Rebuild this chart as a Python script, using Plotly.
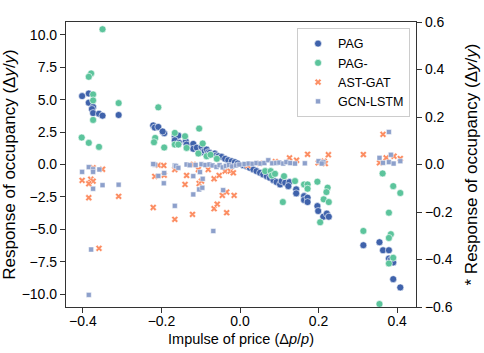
import plotly.graph_objects as go

# PAG (left axis)
pag_x = [-0.402, -0.385, -0.385, -0.374, -0.377, -0.374, -0.359, -0.350, -0.309,
         -0.221, -0.217, -0.208, -0.193, -0.197, -0.166, -0.157, -0.166, -0.155,
         -0.138, -0.136, -0.119, -0.119, -0.110, -0.098, -0.098, -0.090, -0.085,
         -0.081, -0.077, -0.072, -0.064, -0.060, -0.055, -0.047, -0.038, -0.030,
         -0.021, -0.013, -0.006,
         0.008, 0.017, 0.025, 0.034, 0.042, 0.051, 0.059, 0.068, 0.076, 0.085,
         0.093, 0.102, 0.106, 0.115, 0.126, 0.123, 0.143, 0.143, 0.163, 0.163,
         0.172, 0.172, 0.197, 0.199, 0.212, 0.221, 0.226,
         0.355, 0.314, 0.364, 0.379, 0.379, 0.384, 0.390, 0.390, 0.408]
pag_y = [5.28, 5.48, 4.77, 4.44, 4.28, 3.97, 3.92, 3.77, 3.82,
         3.02, 2.85, 2.90, 2.41, 2.55, 2.18, 2.23, 1.87, 1.67,
         1.79, 1.54, 1.59, 1.21, 1.30, 1.36, 0.95, 1.05, 1.15,
         0.95, 0.90, 0.77, 0.85, 0.70, 0.64, 0.59, 0.44, 0.33,
         0.25, 0.18, 0.08,
         -0.05, -0.13, -0.26, -0.38, -0.51, -0.64, -0.77, -0.90, -1.03, -1.21,
         -1.36, -1.54, -1.28, -1.41, -1.36, -1.67, -1.92, -2.23, -2.44, -2.74,
         -2.56, -2.90, -3.21, -3.59, -4.03, -3.79, -4.03,
         -6.00, -6.23, -6.62, -6.62, -7.26, -7.36, -7.56, -8.85, -9.49]

# PAG- (left axis)
pagm_x = [-0.350, -0.379, -0.385, -0.374, -0.374, -0.374, -0.309, -0.403, -0.385, -0.359,
          -0.208, -0.216, -0.219, -0.193, -0.166, -0.166, -0.157, -0.140, -0.136,
          -0.104, -0.095, -0.085, -0.106, -0.075, -0.059,
          0.064, 0.078, 0.081, 0.089, 0.112, 0.109, 0.140, 0.163, 0.172, 0.172,
          0.197, 0.223, 0.220, 0.213, 0.226, 0.204,
          0.363, 0.390, 0.408, 0.379, 0.314, 0.384, 0.379, 0.390, 0.379, 0.355]
pagm_y = [10.44, 7.03, 6.77, 5.41, 4.95, 3.44, 4.74, 2.08, 1.67, 1.36,
          4.41, 2.05, 1.72, 1.31, 2.44, 1.54, 1.54, 2.18, 1.28,
          2.77, 1.62, 0.64, 0.85, 0.75, 0.44,
          -0.51, -0.51, -0.85, -0.72, -0.90, -2.90, -1.28, -1.54, -1.54, -1.87,
          -1.33, -1.79, -2.13, -2.69, -2.90, -4.46,
          -0.69, -1.67, -2.20, -3.72, -5.13, -5.38, -5.67, -7.20, -7.64, -10.77]

# AST-GAT (right axis)
ast_x = [-0.374, -0.350, -0.402, -0.380, -0.374, -0.385, -0.385, -0.309, -0.359,
         -0.208, -0.194, -0.217, -0.193, -0.221, -0.166, -0.166, -0.136, -0.140,
         -0.119, -0.106, -0.104, -0.098, -0.081, -0.066, -0.053, -0.038, -0.025,
         -0.045, -0.034, -0.015, -0.066, -0.058, -0.034, -0.121, -0.017,
         0.020, 0.050, 0.090, 0.126, 0.144, 0.172, 0.199, 0.214, 0.225, 0.217,
         0.314, 0.355, 0.372, 0.392, 0.408, 0.364, 0.385]
ast_y = [-0.014, -0.020, -0.067, -0.062, -0.070, -0.081, -0.140, -0.134, -0.353,
         -0.003, -0.004, -0.050, -0.045, -0.181, -0.021, -0.231, -0.046, -0.084,
         0.000, -0.021, -0.080, -0.070, -0.021, -0.060, -0.046, -0.028, -0.028,
         -0.130, -0.116, -0.130, -0.186, -0.167, -0.203, -0.210, -0.035,
         -0.004, 0.005, 0.012, 0.028, 0.018, 0.043, 0.007, 0.014, 0.041, 0.004,
         0.042, 0.007, 0.028, 0.035, 0.025, 0.127, 0.270]

# GCN-LSTM (right axis)
gcn_x = [-0.385, -0.402, -0.374, -0.374, -0.358, -0.374, -0.350, -0.309, -0.379, -0.385,
         -0.217, -0.221, -0.208, -0.193, -0.194, -0.166, -0.166, -0.163, -0.157,
         -0.136, -0.128, -0.119, -0.113, -0.102, -0.095, -0.104, -0.096, -0.119,
         -0.068, -0.043, -0.098, -0.088, -0.078, -0.070, -0.060, -0.052, -0.044,
         -0.036, -0.028, -0.020, -0.010, -0.002,
         0.012, 0.022, 0.032, 0.042, 0.052, 0.062, 0.072, 0.082, 0.092, 0.100,
         0.110, 0.118, 0.128, 0.140, 0.165, 0.172, 0.200, 0.212, 0.208,
         0.314, 0.389, 0.379, 0.384, 0.355, 0.364, 0.379, 0.391, 0.408]
gcn_y = [-0.011, -0.031, -0.020, -0.031, -0.021, -0.102, -0.087, -0.085, -0.358, -0.549,
         -0.001, 0.002, -0.048, -0.036, -0.079, -0.004, -0.174, -0.007, -0.014,
         0.000, -0.003, -0.049, -0.002, -0.032, -0.060, -0.105, -0.098, -0.126,
         -0.280, -0.108, 0.001, -0.002, 0.000, -0.004, -0.010, -0.003, -0.012,
         -0.006, -0.002, -0.008, -0.004, 0.000,
         0.002, 0.004, 0.003, 0.006, 0.004, 0.006, 0.018, 0.005, 0.006, 0.008,
         0.004, 0.010, 0.006, 0.004, 0.005, 0.326, 0.014, 0.010, 0.004,
         0.270, 0.214, 0.137, 0.041, 0.028, 0.007, 0.010, 0.004, 0.014]

FONT = "Liberation Sans, Arial, sans-serif"
AXIS = "#333333"

fig = go.Figure()
fig.add_trace(go.Scatter(x=pag_x, y=pag_y, mode="markers", name="PAG",
                         marker=dict(symbol="circle", size=7, color="#3f62ab",
                                     line=dict(color="white", width=0.6))))
fig.add_trace(go.Scatter(x=pagm_x, y=pagm_y, mode="markers", name="PAG-",
                         marker=dict(symbol="circle", size=7, color="#5cc49c",
                                     line=dict(color="white", width=0.6))))
fig.add_trace(go.Scatter(x=ast_x, y=ast_y, mode="markers", name="AST-GAT", yaxis="y2",
                         marker=dict(symbol="x", size=6, color="#fc8d62",
                                     line=dict(color="white", width=0.5))))
fig.add_trace(go.Scatter(x=gcn_x, y=gcn_y, mode="markers", name="GCN-LSTM", yaxis="y2",
                         marker=dict(symbol="square", size=5, color="#8da0cb",
                                     line=dict(color="white", width=0.5))))

axis_common = dict(showgrid=False, zeroline=False, showline=True, linecolor=AXIS,
                   linewidth=1.2, ticks="outside", ticklen=5, tickwidth=1.2,
                   tickcolor=AXIS, tickfont=dict(size=14, color="black"),
                   tickformat=".1f", automargin=False)

fig.update_layout(
    width=484, height=353,
    margin=dict(l=66, r=68, t=22, b=46),
    plot_bgcolor="white", paper_bgcolor="white",
    font=dict(family=FONT, size=14, color="black"),
    xaxis=dict(range=[-0.443, 0.448], tickvals=[-0.4, -0.2, 0.0, 0.2, 0.4], mirror=True,
               ticklabelstandoff=-4,
               title=dict(text="Impulse of price (Δ<i>p</i>/<i>p</i>)", standoff=5,
                          font=dict(size=14.5)),
               **axis_common),
    yaxis=dict(range=[-11, 11], tickvals=[-10, -7.5, -5, -2.5, 0, 2.5, 5, 7.5, 10],
               title=dict(text="Response of occupancy (Δ<i>y</i>/<i>y</i>)", standoff=1,
                          font=dict(size=17)),
               **axis_common),
    yaxis2=dict(range=[-0.6, 0.6], tickvals=[-0.6, -0.4, -0.2, 0.0, 0.2, 0.4, 0.6],
                overlaying="y", side="right",
                title=dict(text="* Response of occupancy (Δ<i>y</i>/<i>y</i>)", standoff=13,
                           font=dict(size=17)),
                **axis_common),
    legend=dict(x=0.983, y=0.979, xanchor="right", yanchor="top",
                bgcolor="white", bordercolor="#cccccc", borderwidth=1,
                font=dict(size=12.5), itemwidth=30, tracegroupgap=0),
    showlegend=True,
)

# the page body has an 8px default margin, drop it so the figure sits at 0,0
fig.write_html("out.html", config={"displayModeBar": False},
               post_script="document.body.style.margin='0';")
